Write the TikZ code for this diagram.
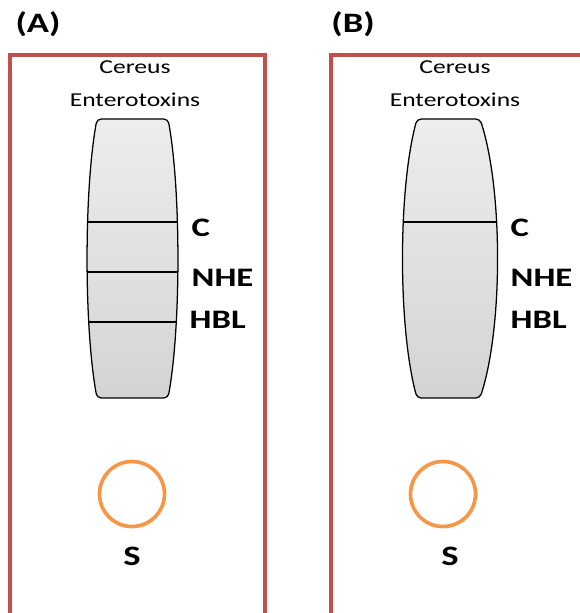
\documentclass[tikz,border=0pt]{standalone}
\usepackage{fontspec}
\setmainfont[FakeStretch=1.3]{Carlito}
\definecolor{boxred}{HTML}{C0504D}
\definecolor{wellorange}{HTML}{F79646}

\begin{document}
\begin{tikzpicture}[x=0.025cm,y=-0.025cm,
  panel/.style={draw=boxred,line width=2.6pt},
  strip/.style={draw=black,line width=0.9pt,rounded corners=3pt,top color=gray!14,bottom color=gray!34},
  band/.style={draw=black,line width=0.9pt},
  well/.style={draw=wellorange,line width=2.6pt},
  tag/.style={font=\fontsize{20}{22}\selectfont\bfseries},
  toxin/.style={font=\fontsize{19}{21}\selectfont\bfseries,anchor=west,inner sep=1pt},
  header/.style={font=\fontsize{14}{23.4}\selectfont,align=center,inner sep=0pt}]
\clip (0,0) rectangle (580,613);

% panel (A)
\node [tag] (tagA) at (38,24) {(A)};
\draw [panel] (10,55) rectangle (265,650);
\node [header] (headA) at (135,84) {Cereus\\Enterotoxins};
\path [strip,path picture={
    \foreach \y in {222,272,322} \draw [band] (70,\y) -- (200,\y);}]
  (97,119) .. controls (84,190) and (84,327) .. (97,398)
  -- (168,398) .. controls (181,327) and (181,190) .. (168,119) -- cycle;
\node [toxin] (cA) at (190,228) {C};
\node [toxin] (nheA) at (190,278) {NHE};
\node [toxin] (hblA) at (188,320) {HBL};
\draw [well] (132,494) circle (32.5);
\node [tag] (sA) at (132,556) {S};

% panel (B)
\node [tag] (tagB) at (353,24) {(B)};
\draw [panel] (331,55) rectangle (620,650);
\node [header] (headB) at (455,84) {Cereus\\Enterotoxins};
\path [strip,path picture={
    \draw [band] (390,222) -- (510,222);}]
  (417,119) .. controls (398,190) and (398,327) .. (417,398)
  -- (480,398) .. controls (503,327) and (503,190) .. (480,119) -- cycle;
\node [toxin] (cB) at (509,228) {C};
\node [toxin] (nheB) at (509,278) {NHE};
\node [toxin] (hblB) at (509,320) {HBL};
\draw [well] (443,494) circle (32.5);
\node [tag] (sB) at (450,556) {S};
\end{tikzpicture}
\end{document}
